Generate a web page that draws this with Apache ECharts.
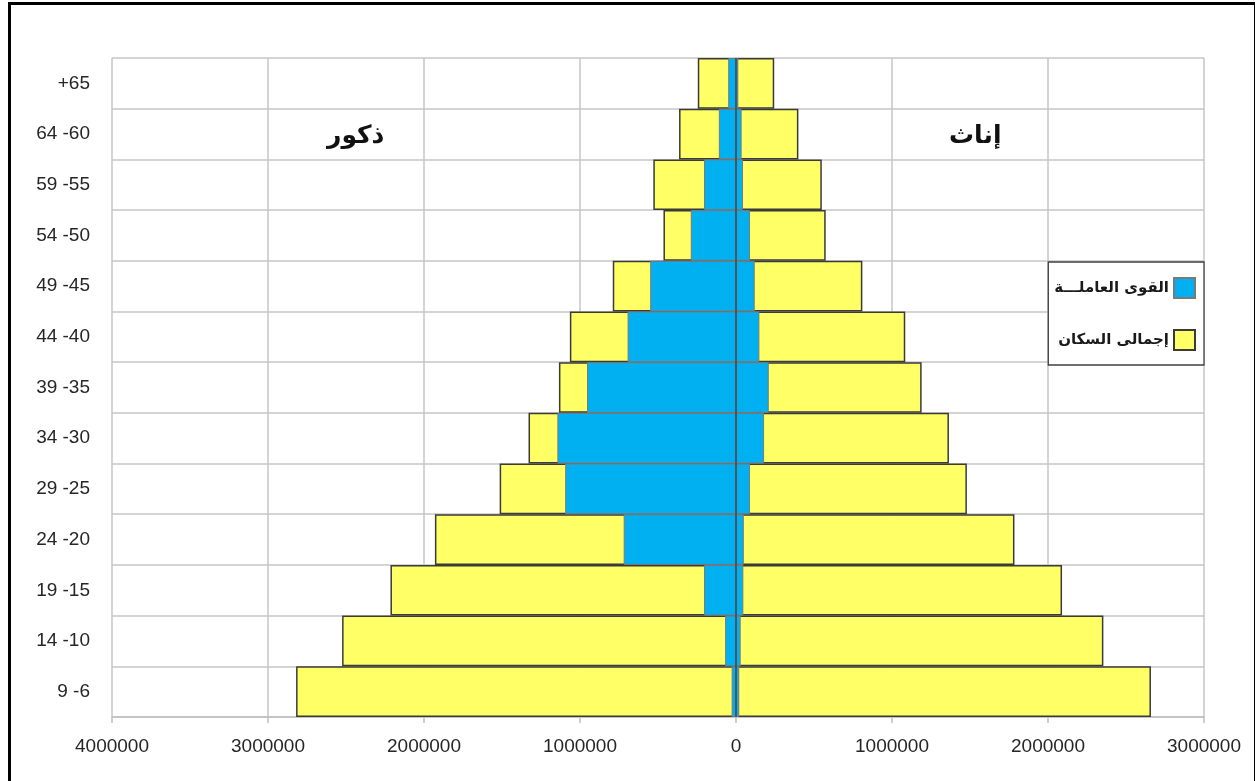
<!DOCTYPE html>
<html>
<head>
<meta charset="utf-8">
<script src="https://cdn.jsdelivr.net/npm/echarts@6/dist/echarts.min.js"></script>
<style>
html,body{margin:0;padding:0;background:#fff;}
#chart{position:absolute;left:0;top:0;width:1255px;height:781px;}
#frame{position:absolute;left:8px;top:2px;width:1243px;height:776px;border-left:3px solid #000;border-top:3px solid #000;border-right:3px solid #000;border-bottom:1px solid #bbb;pointer-events:none;}
</style>
</head>
<body>
<div id="chart"></div>
<div id="frame"></div>
<script>
// Age groups, bottom to top
var ageGroups = ['9 -6','14 -10','19 -15','24 -20','29 -25','34 -30','39 -35','44 -40','49 -45','54 -50','59 -55','64 -60','+65'];
// Males (drawn to the left)
var maleTotal = [2820000,2525000,2215000,1930000,1515000,1330000,1135000,1065000,790000,465000,530000,365000,245000];
var maleWork  = [28000,70000,205000,720000,1095000,1145000,955000,695000,550000,290000,205000,110000,50000];
// Females (drawn to the right)
var femaleTotal = [2660000,2355000,2090000,1785000,1480000,1365000,1190000,1085000,810000,575000,550000,400000,245000];
var femaleWork  = [21000,30000,47000,50000,90000,180000,210000,150000,120000,90000,45000,36000,15000];
var xTicks = {min:-4000000, max:3000000, interval:1000000};
var nameWork = 'القوى العاملـــة';
var nameTotal = 'إجمالى السكان';
var labelMale = 'ذكور';
var labelFemale = 'إناث';

var chart = echarts.init(document.getElementById('chart'), null, {renderer:'canvas'});
var yellow = {color:'#FFFF66', borderColor:'#3a3a3a', borderWidth:1.5};
var blue = {color:'#00B0F0', borderColor:'#7a7a7a', borderWidth:1};
var option = {
  animation:false,
  backgroundColor:'#fff',
  grid:{left:112, right:51, top:58, bottom:64, containLabel:false},
  xAxis:{
    type:'value', min:xTicks.min, max:xTicks.max, interval:xTicks.interval,
    axisLine:{show:true, onZero:false, lineStyle:{color:'#bfbfbf', width:1.5}},
    axisTick:{show:true, length:6, lineStyle:{color:'#bfbfbf', width:1.5}},
    axisLabel:{margin:20, color:'#262626', fontSize:19, fontFamily:'Liberation Sans',
      formatter:function(v){return String(Math.abs(v));}},
    splitLine:{show:true, lineStyle:{color:'#c6c6c6', width:1.5}}
  },
  yAxis:{
    type:'category', data:ageGroups,
    axisLine:{show:true, lineStyle:{color:'#c6c6c6', width:1.5}},
    axisTick:{show:false},
    axisLabel:{margin:22, color:'#262626', fontSize:19, fontFamily:'Liberation Sans'},
    splitLine:{show:true, lineStyle:{color:'#c6c6c6', width:1.5}}
  },
  legend:{
    orient:'vertical', right:51, top:262, align:'right', icon:'rect',
    data:[nameWork, nameTotal],
    itemWidth:21, itemHeight:20, itemGap:30,
    padding:[15,8,14,6],
    backgroundColor:'#fff', borderColor:'#404040', borderWidth:1.3,
    textStyle:{fontSize:15, fontWeight:'bold', color:'#1a1a1a', fontFamily:'DejaVu Sans'}
  },
  graphic:[
    {type:'text', left:327, top:124, style:{text:labelMale, font:'bold 25px "DejaVu Sans"', fill:'#111'}},
    {type:'text', left:949, top:124, style:{text:labelFemale, font:'bold 25px "DejaVu Sans"', fill:'#111'}}
  ],
  series:[
    {name:nameTotal, type:'bar', stack:'total', barCategoryGap:0, barGap:'-100%',
     itemStyle:yellow, data:maleTotal.map(function(v){return -v;}), z:2},
    {name:nameTotal, type:'bar', stack:'total', barCategoryGap:0, barGap:'-100%',
     itemStyle:yellow, data:femaleTotal, z:2},
    {name:nameWork, type:'bar', stack:'work', barCategoryGap:0, barGap:'-100%',
     itemStyle:blue, data:maleWork.map(function(v){return -v;}), z:3},
    {name:nameWork, type:'bar', stack:'work', barCategoryGap:0, barGap:'-100%',
     itemStyle:blue, data:femaleWork, z:3,
     markLine:{silent:true, symbol:'none', label:{show:false},
       lineStyle:{color:'#4a5560', width:2, type:'solid'},
       data:[{xAxis:0}]}}
  ]
};
chart.setOption(option);
</script>
</body>
</html>
